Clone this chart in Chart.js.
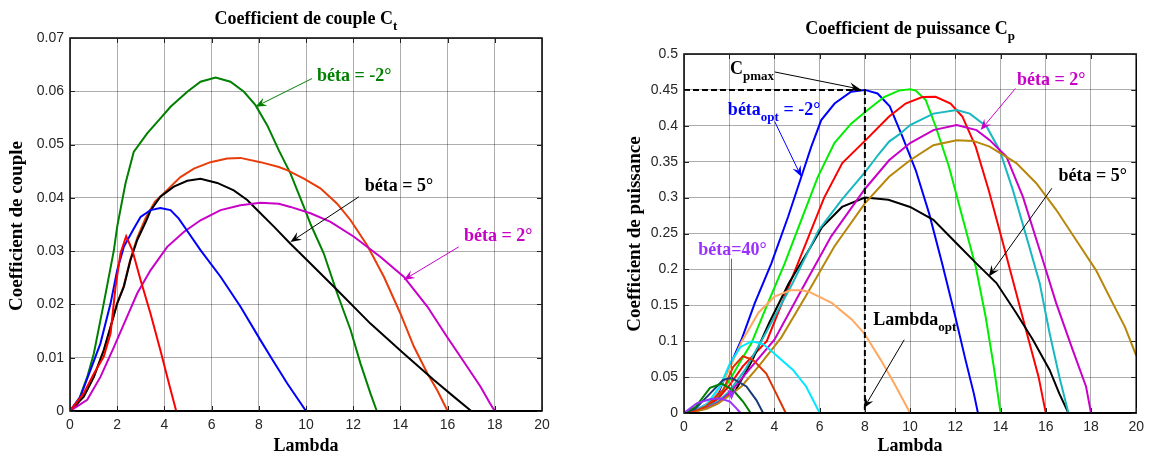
<!DOCTYPE html>
<html>
<head>
<meta charset="utf-8">
<script src="https://cdn.jsdelivr.net/npm/chart.js@4.4.1/dist/chart.umd.min.js"></script>
<style>
  html, body { margin: 0; padding: 0; background: #fff; }
  body { width: 1150px; height: 455px; position: relative; overflow: hidden; }
  canvas { position: absolute; top: 0; }
  #ct { left: 0; }
  #cp { left: 580px; }
</style>
</head>
<body>
<canvas id="ct" width="580" height="455"></canvas>
<canvas id="cp" width="570" height="455"></canvas>
<script>
// ---- axes ----
const lambdaTicks = [0, 2, 4, 6, 8, 10, 12, 14, 16, 18, 20];
const lambdaTickLabels = ['0', '2', '4', '6', '8', '10', '12', '14', '16', '18', '20'];
const ctTicks = [0, 0.01, 0.02, 0.03, 0.04, 0.05, 0.06, 0.07];
const ctTickLabels = ['0', '0.01', '0.02', '0.03', '0.04', '0.05', '0.06', '0.07'];
const cpTicks = [0, 0.05, 0.1, 0.15, 0.2, 0.25, 0.3, 0.35, 0.4, 0.45, 0.5];
const cpTickLabels = ['0', '0.05', '0.1', '0.15', '0.2', '0.25', '0.3', '0.35', '0.4', '0.45', '0.5'];

// ---- torque coefficient Ct(lambda), [lambda, Ct] ----
const ctBetaM2 = [[0,0],[0.3,0.0012],[0.73,0.0064],[1.01,0.0108],[1.43,0.0202],[1.86,0.0302],[2.0,0.0346],[2.35,0.0427],[2.7,0.0486],[3.27,0.0521],[3.83,0.0549],[4.26,0.0571],[4.97,0.0599],[5.53,0.0618],[6.17,0.0626],[6.8,0.0618],[7.37,0.0599],[7.86,0.0574],[8.36,0.0536],[8.85,0.0489],[9.34,0.0446],[9.91,0.0383],[10.2,0.035],[10.75,0.0296],[11.32,0.0221],[11.89,0.0152],[12.31,0.0089],[12.73,0.0033],[13,0]];
const ctBetaOrange = [[0,0],[0.58,0.0027],[1.01,0.0064],[1.43,0.0114],[1.72,0.0158],[2.0,0.0202],[2.28,0.0235],[2.56,0.0285],[2.85,0.0325],[3.2,0.0362],[3.6,0.0393],[4.12,0.0415],[4.68,0.0439],[5.25,0.0455],[5.95,0.0467],[6.66,0.0474],[7.22,0.0475],[8.07,0.0467],[8.85,0.0458],[9.2,0.0452],[9.91,0.0436],[10.61,0.0418],[11.32,0.0389],[11.89,0.0358],[12.59,0.0311],[13.3,0.0252],[14.0,0.0183],[14.57,0.0121],[15.14,0.0071],[15.56,0.0039],[16,0]];
const ctBeta5 = [[0,0],[0.58,0.0027],[1.01,0.0064],[1.43,0.0114],[1.72,0.0158],[2.0,0.0202],[2.28,0.0233],[2.56,0.0283],[2.85,0.0321],[3.24,0.0358],[3.41,0.0376],[3.83,0.0402],[4.4,0.0421],[4.97,0.0432],[5.53,0.0436],[6.24,0.0428],[6.94,0.0414],[7.51,0.0396],[8.07,0.0371],[8.64,0.0346],[9.34,0.0314],[10.05,0.0283],[11.32,0.0227],[12.73,0.0164],[14.14,0.0108],[15.42,0.0058],[16.26,0.0027],[17,0]];
const ctBeta2 = [[0,0],[0.73,0.0021],[1.29,0.0064],[1.86,0.012],[2.42,0.0177],[2.85,0.0221],[3.41,0.0264],[4.12,0.0308],[4.82,0.0336],[5.53,0.0358],[6.38,0.0377],[7.22,0.0386],[8.07,0.0391],[8.85,0.0389],[9.34,0.0383],[10.19,0.0371],[11.04,0.0355],[12.03,0.0327],[13.16,0.0289],[14.14,0.0252],[15.14,0.0196],[15.98,0.0139],[16.83,0.0083],[17.39,0.0046],[17.8,0.0014],[18,0]];
const ctBetaBlue = [[0,0],[0.44,0.0027],[0.87,0.0077],[1.29,0.0127],[1.72,0.0202],[2.0,0.0264],[2.28,0.0308],[2.7,0.0342],[2.99,0.0364],[3.41,0.0377],[3.83,0.0381],[4.26,0.0377],[4.61,0.0361],[4.89,0.0343],[5.53,0.0302],[6.38,0.0252],[7.22,0.0196],[8.07,0.0133],[8.5,0.0102],[9.2,0.0052],[10,0]];
const ctBetaRed = [[0,0],[0.58,0.0033],[1.01,0.007],[1.43,0.0102],[1.72,0.0146],[1.93,0.0233],[2.14,0.0296],[2.38,0.0328],[2.64,0.0302],[2.99,0.0246],[3.41,0.0183],[3.83,0.0114],[4.19,0.0052],[4.5,0]];

// ---- power coefficient Cp(lambda), [lambda, Cp] ----
const cpBetaOptM2 = [[0,0],[0.5,0.004],[1.07,0.0135],[1.51,0.027],[1.95,0.06],[2.54,0.102],[3.13,0.153],[3.86,0.208],[4.6,0.273],[5.19,0.329],[5.63,0.371],[6.07,0.408],[6.66,0.431],[7.39,0.4475],[8,0.45],[8.56,0.445],[9.1,0.427],[9.66,0.385],[10.25,0.338],[10.84,0.278],[11.42,0.208],[12.0,0.134],[12.45,0.074],[12.82,0.027],[13,0]];
const cpGreen = [[0,0],[0.5,0.003],[1.0,0.01],[1.5,0.022],[2.0,0.045],[2.5,0.072],[2.98,0.097],[3.71,0.153],[4.45,0.208],[5.19,0.269],[5.92,0.329],[6.65,0.376],[7.39,0.403],[8.12,0.422],[8.85,0.44],[9.5,0.449],[10.0,0.451],[10.25,0.449],[10.69,0.436],[11.13,0.399],[11.72,0.343],[12.31,0.273],[12.9,0.204],[13.34,0.134],[13.7,0.0645],[14,0]];
const cpRed = [[0,0],[0.5,0.003],[1.0,0.009],[1.5,0.02],[2.0,0.038],[2.6,0.065],[3.66,0.1],[4.93,0.2],[6.2,0.3],[7.0,0.348],[8.0,0.379],[9.07,0.413],[9.8,0.431],[10.54,0.44],[11.13,0.4405],[11.79,0.431],[12.31,0.413],[12.9,0.371],[13.48,0.31],[14.07,0.241],[14.66,0.171],[15.24,0.102],[15.68,0.0506],[16,0]];
const cpTeal = [[0,0],[0.5,0.003],[1.0,0.008],[1.5,0.016],[2.0,0.03],[2.7,0.06],[3.61,0.111],[4.79,0.18],[5.96,0.255],[7.0,0.298],[8.0,0.335],[8.6,0.36],[9.07,0.378],[9.52,0.388],[10.0,0.401],[11.03,0.417],[12.06,0.422],[12.64,0.417],[13.38,0.399],[13.96,0.366],[14.55,0.31],[15.14,0.246],[15.73,0.181],[16.17,0.111],[16.6,0.0506],[17,0]];
const cpBeta2 = [[0,0],[0.5,0.002],[1.0,0.007],[1.5,0.014],[2.0,0.027],[3.0,0.065],[4.0,0.102],[5.19,0.171],[6.51,0.246],[8.0,0.312],[9.07,0.352],[10.0,0.376],[11.03,0.394],[12.06,0.401],[12.94,0.394],[13.52,0.38],[14.26,0.357],[14.99,0.301],[15.73,0.227],[16.46,0.153],[17.19,0.088],[17.78,0.037],[18,0]];
const cpBrown = [[0,0],[0.5,0.002],[1.0,0.006],[1.5,0.013],[2.0,0.024],[2.54,0.037],[3.3,0.065],[4.3,0.105],[5.37,0.162],[6.65,0.232],[8.0,0.292],[9.07,0.329],[10.0,0.352],[11.03,0.373],[12.06,0.38],[12.79,0.379],[13.52,0.371],[14.7,0.348],[15.58,0.32],[16.46,0.283],[17.34,0.241],[18.22,0.199],[18.96,0.153],[19.5,0.12],[20,0.08]];
const cpBeta5 = [[0,0],[0.5,0.003],[1.0,0.008],[1.6,0.017],[2.29,0.032],[3.03,0.074],[3.76,0.125],[4.64,0.181],[5.52,0.227],[6.11,0.259],[6.99,0.287],[8,0.3],[9.04,0.297],[10.0,0.287],[11.03,0.269],[12.06,0.236],[12.94,0.208],[13.82,0.181],[14.7,0.139],[15.43,0.102],[16.17,0.06],[16.6,0.027],[17,0]];
const cpPeach = [[0,0],[0.5,0.003],[1.07,0.0135],[1.5,0.03],[1.96,0.058],[2.56,0.1],[3.3,0.14],[4.0,0.162],[4.71,0.171],[5.2,0.171],[5.52,0.169],[6.55,0.153],[7.43,0.13],[7.97,0.111],[8.7,0.074],[9.3,0.041],[10,0]];
const cpCyan = [[0,0],[0.5,0.004],[1.0,0.012],[1.59,0.037],[2.03,0.069],[2.5,0.092],[3.0,0.1],[3.5,0.096],[3.8,0.088],[4.82,0.06],[5.4,0.037],[6,0]];
const cpDarkOrange = [[0,0],[0.5,0.003],[1.0,0.01],[1.73,0.032],[2.17,0.064],[2.6,0.079],[3.05,0.074],[3.64,0.055],[4.08,0.027],[4.5,0]];
const cpNavy = [[0,0],[0.5,0.006],[1.15,0.027],[1.73,0.046],[2.1,0.049],[2.76,0.037],[3.2,0.018],[3.5,0]];
const cpDarkGreen = [[0,0],[0.5,0.008],[1.15,0.035],[1.66,0.041],[2.17,0.032],[2.61,0.016],[2.95,0]];
const cpBeta40 = [[0,0],[0.56,0.0135],[1.15,0.019],[1.59,0.0205],[2.03,0.016],[2.32,0.0065],[2.5,0]];

// optimum point marked by the dashed guide
const lambdaOpt = 8;
const cpMax = 0.45;

const SERIF = '"Liberation Serif", "Times New Roman", serif';
const SANS = '"Liberation Sans", Arial, sans-serif';

function series(points, color, extra) {
  return Object.assign({
    data: points.map(p => ({ x: p[0], y: p[1] })),
    borderColor: color,
    backgroundColor: color,
    borderWidth: 2,
    pointRadius: 0,
    showLine: true,
    fill: false,
    tension: 0
  }, extra || {});
}

// draws a text run made of normal and subscript pieces, left-middle anchored
function drawRich(ctx, parts, x, y, color, size) {
  ctx.fillStyle = color;
  ctx.textBaseline = 'middle';
  ctx.textAlign = 'left';
  let cx = x;
  for (const p of parts) {
    const s = p.sub ? Math.round(size * 0.72) : size;
    ctx.font = 'bold ' + s + 'px ' + SERIF;
    ctx.fillText(p.t, cx, p.sub ? y + size * 0.42 : y);
    cx += ctx.measureText(p.t).width;
  }
  return cx - x;
}
function richWidth(ctx, parts, size) {
  let w = 0;
  for (const p of parts) {
    const s = p.sub ? Math.round(size * 0.72) : size;
    ctx.font = 'bold ' + s + 'px ' + SERIF;
    w += ctx.measureText(p.t).width;
  }
  return w;
}

function arrow(ctx, x1, y1, x2, y2, color) {
  const a = Math.atan2(y2 - y1, x2 - x1);
  const L = 11, W = 4.5, N = 7;
  ctx.strokeStyle = color;
  ctx.fillStyle = color;
  ctx.lineWidth = 1;
  ctx.beginPath();
  ctx.moveTo(x1, y1);
  ctx.lineTo(x2 - Math.cos(a) * N, y2 - Math.sin(a) * N);
  ctx.stroke();
  const ca = Math.cos(a), sa = Math.sin(a);
  ctx.beginPath();
  ctx.moveTo(x2, y2);
  ctx.lineTo(x2 - ca * L - sa * W, y2 - sa * L + ca * W);
  ctx.lineTo(x2 - ca * N, y2 - sa * N);
  ctx.lineTo(x2 - ca * L + sa * W, y2 - sa * L - ca * W);
  ctx.closePath();
  ctx.fill();
}

const decorPlugin = {
  id: 'decor',
  afterDatasetsDraw(chart, args, opts) {
    const ctx = chart.ctx;
    const a = chart.chartArea;
    const xs = chart.scales.x, ys = chart.scales.y;
    ctx.save();
    // axes box
    ctx.strokeStyle = '#000';
    ctx.lineWidth = 1.5;
    ctx.strokeRect(a.left, a.top, a.right - a.left, a.bottom - a.top);
    ctx.lineWidth = 2;
    ctx.beginPath(); ctx.moveTo(a.left, a.bottom); ctx.lineTo(a.right, a.bottom); ctx.stroke();
    // inward tick marks on all four sides
    ctx.lineWidth = 1;
    ctx.strokeStyle = '#222';
    ctx.beginPath();
    for (const v of lambdaTicks) {
      const x = Math.round(xs.getPixelForValue(v)) + 0.5;
      ctx.moveTo(x, a.bottom); ctx.lineTo(x, a.bottom - 5);
      ctx.moveTo(x, a.top); ctx.lineTo(x, a.top + 5);
    }
    for (const v of opts.yTicks) {
      const y = Math.round(ys.getPixelForValue(v)) + 0.5;
      ctx.moveTo(a.left, y); ctx.lineTo(a.left + 5, y);
      ctx.moveTo(a.right, y); ctx.lineTo(a.right - 5, y);
    }
    ctx.stroke();
    // annotations
    for (const n of opts.notes) {
      if (n.arrow) {
        arrow(ctx, xs.getPixelForValue(n.arrow[0]), ys.getPixelForValue(n.arrow[1]),
          xs.getPixelForValue(n.arrow[2]), ys.getPixelForValue(n.arrow[3]), n.color);
      }
      drawRich(ctx, n.parts, xs.getPixelForValue(n.at[0]), ys.getPixelForValue(n.at[1]), n.color, n.size);
    }
    ctx.restore();
  },
  afterDraw(chart, args, opts) {
    const ctx = chart.ctx;
    const a = chart.chartArea;
    const cx = (a.left + a.right) / 2;
    const cy = (a.top + a.bottom) / 2;
    ctx.save();
    // title with subscript
    const tw = richWidth(ctx, opts.title, 18);
    drawRich(ctx, opts.title, cx - tw / 2, opts.titleY, '#000', 18);
    // x axis title
    ctx.font = 'bold 18px ' + SERIF;
    ctx.fillStyle = '#000';
    ctx.textAlign = 'center';
    ctx.textBaseline = 'middle';
    ctx.fillText('Lambda', cx, 446);
    // y axis title
    ctx.font = 'bold 19px ' + SERIF;
    ctx.translate(opts.yTitleX, opts.yTitleY);
    ctx.rotate(-Math.PI / 2);
    ctx.fillText(opts.yTitle, 0, 0);
    ctx.restore();
  }
};

function makeChart(id, datasets, cfg) {
  const canvas = document.getElementById(id);
  const W = canvas.width, H = canvas.height;
  return new Chart(canvas, {
    type: 'scatter',
    data: { datasets },
    plugins: [decorPlugin],
    options: {
      responsive: false,
      animation: false,
      events: [],
      layout: { autoPadding: false, padding: { left: 0, top: cfg.area.top, right: W - cfg.area.right, bottom: 0 } },
      plugins: {
        legend: { display: false },
        tooltip: { enabled: false },
        title: { display: false },
        decor: { yTicks: cfg.yTicks, notes: cfg.notes, title: cfg.title, titleY: cfg.titleY,
                 yTitle: cfg.yTitle, yTitleX: cfg.yTitleX, yTitleY: cfg.yTitleY }
      },
      scales: {
        x: {
          type: 'linear', min: 0, max: 20,
          afterBuildTicks: s => { s.ticks = lambdaTicks.map(v => ({ value: v })); },
          afterFit: s => { s.height = H - cfg.area.bottom; },
          ticks: { padding: 6, color: '#262626', font: { family: SANS, size: 14 }, maxRotation: 0, autoSkip: false,
                   callback: (v, i) => lambdaTickLabels[i] },
          grid: { color: 'rgba(0,0,0,0.32)', lineWidth: 1, drawTicks: false },
          border: { display: false }
        },
        y: {
          type: 'linear', min: 0, max: cfg.yMax,
          afterBuildTicks: s => { s.ticks = cfg.yTicks.map(v => ({ value: v })); },
          afterFit: s => { s.width = cfg.area.left; },
          ticks: { padding: 6, color: '#262626', font: { family: SANS, size: 14 }, autoSkip: false,
                   callback: (v, i) => cfg.yTickLabels[i] },
          grid: { color: 'rgba(0,0,0,0.32)', lineWidth: 1, drawTicks: false },
          border: { display: false }
        }
      }
    }
  });
}

// ---- torque coefficient chart ----
makeChart('ct', [
  series(ctBetaRed, '#ff0000'),
  series(ctBetaBlue, '#0000ff'),
  series(ctBeta2, '#c800c8'),
  series(ctBeta5, '#000000'),
  series(ctBetaOrange, '#e83c0a'),
  series(ctBetaM2, '#008000')
], {
  area: { left: 70, top: 38, right: 542, bottom: 411 },
  yMax: 0.07, yTicks: ctTicks, yTickLabels: ctTickLabels,
  title: [{ t: 'Coefficient de couple C' }, { t: 't', sub: true }], titleY: 19,
  yTitle: 'Coefficient de couple', yTitleX: 17, yTitleY: 226,
  notes: [
    { parts: [{ t: 'béta = -2°' }], at: [10.47, 0.0628], arrow: [10.26, 0.0624, 7.86, 0.0571], color: '#008000', size: 18 },
    { parts: [{ t: 'béta = 5°' }], at: [12.49, 0.0422], arrow: [12.24, 0.0402, 9.34, 0.0317], color: '#000000', size: 18 },
    { parts: [{ t: 'béta = 2°' }], at: [16.69, 0.0327], arrow: [16.47, 0.0308, 14.14, 0.0246], color: '#c800c8', size: 18 }
  ]
});

// ---- power coefficient chart ----
makeChart('cp', [
  series([[0, cpMax], [lambdaOpt, cpMax], [lambdaOpt, 0]], '#000000', { borderDash: [6, 3], borderWidth: 2 }),
  series(cpBeta40, '#9b30ff'),
  series(cpDarkGreen, '#008000'),
  series(cpNavy, '#1a3a7a'),
  series(cpDarkOrange, '#dd3300'),
  series(cpCyan, '#00e8ff'),
  series(cpPeach, '#ffa860'),
  series(cpBrown, '#b8860b'),
  series(cpBeta2, '#c800c8'),
  series(cpTeal, '#18b8c0'),
  series(cpBeta5, '#000000'),
  series(cpRed, '#ff0000'),
  series(cpGreen, '#00ee00'),
  series(cpBetaOptM2, '#0000ff')
], {
  area: { left: 104, top: 54, right: 558, bottom: 413 },
  yMax: 0.5, yTicks: cpTicks, yTickLabels: cpTickLabels,
  title: [{ t: 'Coefficient de puissance C' }, { t: 'p', sub: true }], titleY: 29,
  yTitle: 'Coefficient de puissance', yTitleX: 55, yTitleY: 234,
  notes: [
    { parts: [{ t: 'C' }, { t: 'pmax', sub: true }], at: [2.03, 0.479], arrow: [4.01, 0.475, 7.8, 0.451], color: '#000000', size: 18 },
    { parts: [{ t: 'béta' }, { t: 'opt', sub: true }, { t: ' = -2°' }], at: [1.94, 0.422], arrow: [4.01, 0.406, 5.19, 0.329], color: '#0000ff', size: 18 },
    { parts: [{ t: 'béta = 2°' }], at: [14.73, 0.464], arrow: [14.66, 0.452, 13.12, 0.394], color: '#c800c8', size: 18 },
    { parts: [{ t: 'béta = 5°' }], at: [16.56, 0.329], arrow: [16.27, 0.313, 13.48, 0.19], color: '#000000', size: 18 },
    { parts: [{ t: 'Lambda' }, { t: 'opt', sub: true }], at: [8.37, 0.1295], arrow: [9.74, 0.102, 7.95, 0.0065], color: '#000000', size: 18 },
    { parts: [{ t: 'béta=40°' }], at: [0.63, 0.227], arrow: [2.1, 0.215, 2.1, 0.018], color: '#9b30ff', size: 18 }
  ]
});
</script>
</body>
</html>
